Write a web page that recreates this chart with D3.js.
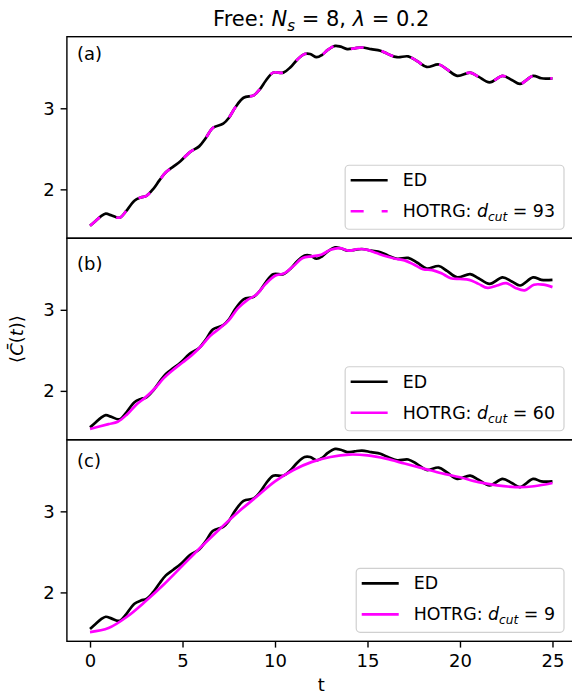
<!DOCTYPE html>
<html><head><meta charset="utf-8">
<script src="https://cdn.jsdelivr.net/npm/d3@7"></script>
<style>
body{margin:0;background:#fff}
svg{display:block}
text{font-family:"DejaVu Sans",sans-serif;fill:#000}
</style>
</head><body>
<svg id="chart" width="572" height="694"></svg>
<script>
// ---------- data ----------
const edT = [0.0,0.3,0.6,0.85,1.15,1.5,1.65,1.95,2.4,2.75,3.05,3.4,3.75,4.1,4.5,4.9,5.4,5.9,6.25,6.65,7.2,7.5,7.85,8.3,8.85,9.2,9.5,9.9,10.45,10.85,11.2,11.6,11.9,12.25,12.55,12.85,13.25,13.55,13.9,14.3,14.7,15.2,15.7,16.1,16.6,17.2,17.7,18.2,18.85,19.3,19.85,20.55,21.0,21.6,22.3,22.8,23.25,23.95,24.4,25.0];
const edV = [1.55,1.61,1.67,1.70,1.68,1.65,1.655,1.73,1.86,1.90,1.92,2.00,2.11,2.21,2.28,2.35,2.46,2.53,2.63,2.76,2.81,2.88,3.01,3.13,3.16,3.24,3.34,3.44,3.44,3.51,3.60,3.67,3.67,3.63,3.66,3.72,3.77,3.76,3.73,3.74,3.75,3.73,3.71,3.67,3.63,3.64,3.58,3.51,3.54,3.48,3.40,3.44,3.39,3.32,3.40,3.35,3.30,3.40,3.37,3.37];

const hotrg93T = [0.0,0.3,0.6,0.85,1.15,1.5,1.65,1.95,2.4,2.75,3.05,3.4,3.75,4.1,4.5,4.9,5.4,5.9,6.25,6.65,7.2,7.5,7.85,8.3,8.85,9.2,9.5,9.9,10.45,10.85,11.2,11.6,11.9,12.25,12.55,12.85,13.25,13.55,13.9,14.3,14.7,15.2,15.7,16.1,16.6,17.2,17.7,18.2,18.85,19.3,19.85,20.55,21.0,21.6,22.3,22.8,23.25,23.95,24.4,25.0];
const hotrg93V = [1.55,1.61,1.67,1.70,1.68,1.65,1.655,1.73,1.86,1.90,1.92,2.00,2.11,2.21,2.28,2.35,2.46,2.53,2.63,2.76,2.81,2.88,3.01,3.13,3.16,3.24,3.34,3.44,3.44,3.51,3.60,3.67,3.67,3.63,3.66,3.72,3.77,3.76,3.73,3.74,3.75,3.73,3.71,3.67,3.63,3.64,3.58,3.51,3.54,3.48,3.40,3.44,3.39,3.32,3.40,3.35,3.30,3.40,3.37,3.37];

const hotrg60T = [0,0.5,1.0,1.5,2.0,2.5,3.0,3.5,4.0,4.5,5.0,5.5,6.0,6.5,7.0,7.5,8.0,8.5,9.0,9.5,10.0,10.5,11.0,11.5,12.0,12.5,13.0,13.5,14.0,14.5,15.0,15.5,16.0,16.5,17.0,17.5,18.0,18.5,19.0,19.5,20.0,20.5,21.0,21.5,22.0,22.5,23.0,23.5,24.0,24.5,25.0];
const hotrg60V = [1.53,1.56,1.59,1.62,1.71,1.83,1.92,2.03,2.16,2.26,2.35,2.44,2.55,2.68,2.77,2.87,3.02,3.12,3.19,3.32,3.42,3.45,3.54,3.64,3.66,3.68,3.74,3.76,3.73,3.75,3.74,3.70,3.66,3.63,3.61,3.56,3.50,3.49,3.45,3.39,3.38,3.37,3.32,3.27,3.30,3.33,3.27,3.24,3.31,3.31,3.28];

const hotrg9T = [0,1,2,3,4,5,6,7,8,9,10,11,12,13,14,15,16,17,18,19,20,21,22,23,24,25];
const hotrg9V = [1.51,1.56,1.70,1.89,2.10,2.33,2.56,2.78,2.99,3.18,3.37,3.51,3.61,3.67,3.70,3.69,3.65,3.59,3.53,3.47,3.42,3.36,3.32,3.30,3.31,3.35];

const panelLabels = ["(a)","(b)","(c)"];
const dcutValues = ["93","60","9"];
const xTicks = [0,5,10,15,20,25];
const yTicks = [2,3];

// ---------- layout ----------
const svg = d3.select("#chart");
const pLeft = 66.9, pRight = 575.6, pTop = 36.7, pBottom = 641.3;
const ph = (pBottom - pTop) / 3;
const fs = 18, lfs = 17.4;

const allV = edV.concat(hotrg93V, hotrg60V, hotrg9V);
const vmin = d3.min(allV), vmax = d3.max(allV), vpad = 0.05 * (vmax - vmin);
const x = d3.scaleLinear().domain([-1.25, 26.25]).range([pLeft, pRight]);

const zip = (T, V) => T.map((t, i) => [t, V[i]]);
const panels = [
  {hot: zip(hotrg93T, hotrg93V), dash: "13,18", labelTop: 46.7},
  {hot: zip(hotrg60T, hotrg60V), dash: null, labelTop: 256.7},
  {hot: zip(hotrg9T, hotrg9V), dash: null, labelTop: 453}
];
const ed = zip(edT, edV);

panels.forEach((p, i) => {
  const y0 = pTop + i * ph, y1 = y0 + ph;
  const y = d3.scaleLinear().domain([vmin - vpad, vmax + vpad]).range([y1, y0]);
  const g = svg.append("g");
  const cid = "clip" + i;
  svg.append("clipPath").attr("id", cid).append("rect")
    .attr("x", pLeft).attr("y", y0).attr("width", pRight - pLeft).attr("height", ph);

  const line = d3.line().x(d => x(d[0])).y(d => y(d[1])).curve(d3.curveCatmullRom.alpha(0.5));
  const lg = g.append("g").attr("clip-path", `url(#${cid})`);
  lg.append("path").datum(ed).attr("d", line)
    .attr("fill", "none").attr("stroke", "#000").attr("stroke-width", 2.7);
  const hp = lg.append("path").datum(p.hot).attr("d", line)
    .attr("fill", "none").attr("stroke", "#ff00ff").attr("stroke-width", 2.7);
  if (p.dash) hp.attr("stroke-dasharray", p.dash);

  const ya = g.append("g").attr("transform", `translate(${pLeft},0)`)
    .call(d3.axisLeft(y).tickValues(yTicks).tickSize(6.3).tickPadding(6).tickFormat(d3.format("d")));
  ya.select(".domain").remove();
  ya.selectAll("line").attr("stroke", "#000").attr("stroke-width", 1.4);
  ya.selectAll("text").attr("font-size", fs).attr("font-family", "DejaVu Sans").attr("fill", "#000");

  if (i === 2) {
    const xa = g.append("g").attr("transform", `translate(0,${y1})`)
      .call(d3.axisBottom(x).tickValues(xTicks).tickSize(6.3).tickPadding(7).tickFormat(d3.format("d")));
    xa.select(".domain").remove();
    xa.selectAll("line").attr("stroke", "#000").attr("stroke-width", 1.4);
    xa.selectAll("text").attr("font-size", fs).attr("font-family", "DejaVu Sans").attr("fill", "#000");
  }

  g.append("rect").attr("x", pLeft).attr("y", y0).attr("width", pRight - pLeft).attr("height", ph)
    .attr("fill", "none").attr("stroke", "#000").attr("stroke-width", 1.4);

  g.append("text").attr("x", 77).attr("y", p.labelTop + 13.7).attr("font-size", fs).text(panelLabels[i]);

  const leg = g.append("g");
  const boxH = 64, boxTop = y1 - 9 - boxH;
  const box = leg.append("rect").attr("y", boxTop).attr("height", boxH).attr("rx", 4)
    .attr("fill", "#fff").attr("fill-opacity", 0.8).attr("stroke", "#d0d0d0").attr("stroke-width", 1.2);
  const t1 = leg.append("text").attr("font-size", lfs).attr("y", boxTop + 15).attr("dy", "0.35em").text("ED");
  const t2 = leg.append("text").attr("font-size", lfs).attr("y", boxTop + 46).attr("dy", "0.35em");
  t2.append("tspan").text("HOTRG: ");
  t2.append("tspan").attr("font-style", "italic").text("d");
  t2.append("tspan").attr("font-style", "italic").attr("font-size", lfs * 0.7).attr("dy", 4).text("cut");
  t2.append("tspan").attr("dy", -4).text(" = " + dcutValues[i]);
  const tw = Math.max(t1.node().getComputedTextLength(), t2.node().getComputedTextLength());
  const boxW = 5.5 + 37 + 15 + tw + 9;
  const bx = 564 - boxW;
  box.attr("x", bx).attr("width", boxW);
  const hx0 = bx + 5.5, hx1 = hx0 + 37, tx = hx1 + 15;
  t1.attr("x", tx); t2.attr("x", tx);
  leg.append("line").attr("x1", hx0).attr("x2", hx1).attr("y1", boxTop + 15).attr("y2", boxTop + 15)
    .attr("stroke", "#000").attr("stroke-width", 2.7);
  const hl = leg.append("line").attr("x1", hx0).attr("x2", hx1).attr("y1", boxTop + 46).attr("y2", boxTop + 46)
    .attr("stroke", "#ff00ff").attr("stroke-width", 2.7);
  if (p.dash) hl.attr("stroke-dasharray", p.dash);
});

const title = svg.append("text").attr("x", (pLeft + pRight) / 2).attr("y", 26)
  .attr("text-anchor", "middle").attr("font-size", 21);
title.append("tspan").text("Free: ");
title.append("tspan").attr("font-style", "italic").text("N");
title.append("tspan").attr("font-style", "italic").attr("font-size", 15).attr("dy", 5).text("s");
title.append("tspan").attr("dy", -5).text(" = 8, ");
title.append("tspan").attr("font-style", "italic").text("λ");
title.append("tspan").text(" = 0.2");

svg.append("text").attr("x", (pLeft + pRight) / 2).attr("y", 691).attr("text-anchor", "middle")
  .attr("font-size", fs).text("t");

const yl = svg.append("text").attr("transform", `translate(23,${(pTop + pBottom) / 2}) rotate(-90)`)
  .attr("text-anchor", "middle").attr("font-size", fs);
yl.append("tspan").text("⟨");
yl.append("tspan").attr("font-style", "italic").text("C\u0304");
yl.append("tspan").text("(");
yl.append("tspan").attr("font-style", "italic").text("t");
yl.append("tspan").text(")⟩");
</script>
</body></html>
